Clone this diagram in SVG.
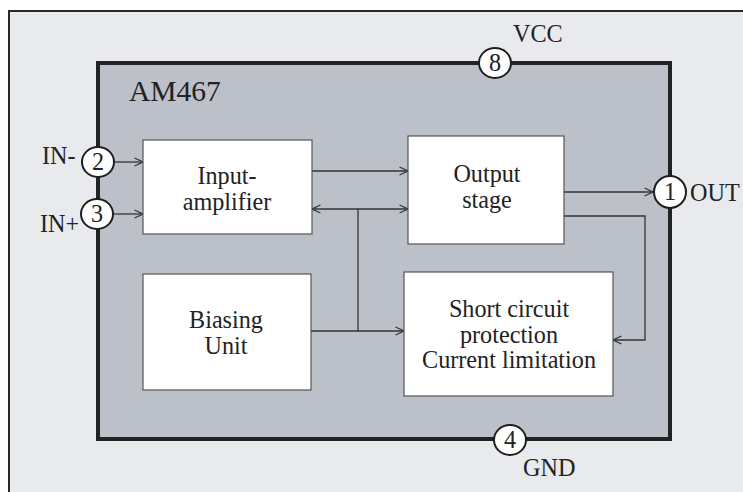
<svg xmlns="http://www.w3.org/2000/svg" width="743" height="492" viewBox="0 0 743 492">
<style>
.t{font-family:"Liberation Serif","Times New Roman",serif;fill:#222;font-size:24.2px}
.box{fill:#fff;stroke:#555;stroke-width:1.2}
.pin{fill:#fff;stroke:#1e1e1e;stroke-width:2}
.c{fill:none;stroke:#333;stroke-width:1.3}
</style>
<defs>
<marker id="a" viewBox="0 0 10 10" refX="9.5" refY="5" markerWidth="10" markerHeight="10" markerUnits="userSpaceOnUse" orient="auto-start-reverse">
<path d="M1,1 L9.5,5 L1,9" fill="none" stroke="#333" stroke-width="1.3"/>
</marker>
</defs>
<rect width="743" height="492" fill="#fff"/>
<rect id="frame" x="9" y="11" width="760" height="520" fill="#e9eaee" stroke="#2a2a2a" stroke-width="2"/>
<g id="chip">
<rect x="98" y="63" width="572" height="376" fill="#bcc0c8" stroke="#222" stroke-width="4"/>
<text class="t" x="129" y="101" style="font-size:29.5px">AM467</text>
</g>
<g id="connectors">
<line class="c" x1="114" y1="162" x2="143" y2="162" marker-end="url(#a)"/>
<line class="c" x1="114" y1="214" x2="143" y2="214" marker-end="url(#a)"/>
<line class="c" x1="312" y1="171" x2="408" y2="171" marker-end="url(#a)"/>
<line class="c" x1="312" y1="209" x2="408" y2="209" marker-start="url(#a)" marker-end="url(#a)"/>
<line class="c" x1="358" y1="209" x2="358" y2="331"/>
<line class="c" x1="311" y1="331" x2="404" y2="331" marker-end="url(#a)"/>
<line class="c" x1="564" y1="192" x2="653" y2="192" marker-end="url(#a)"/>
<polyline class="c" points="564,216 645,216 645,340 613,340" marker-end="url(#a)"/>
</g>
<g id="input-amplifier">
<rect class="box" x="143" y="140" width="169" height="94"/>
<text class="t" text-anchor="middle" x="227" y="184"><tspan x="227">Input-</tspan><tspan x="227" dy="25.5">amplifier</tspan></text>
</g>
<g id="output-stage">
<rect class="box" x="408" y="136" width="156" height="108"/>
<text class="t" text-anchor="middle" x="487" y="182"><tspan x="487">Output</tspan><tspan x="487" dy="25.5">stage</tspan></text>
</g>
<g id="biasing-unit">
<rect class="box" x="143" y="274" width="168" height="116"/>
<text class="t" text-anchor="middle" x="226" y="328"><tspan x="226">Biasing</tspan><tspan x="226" dy="26">Unit</tspan></text>
</g>
<g id="short-circuit">
<rect class="box" x="404" y="272" width="209" height="124"/>
<text class="t" text-anchor="middle" x="509" y="317"><tspan x="509">Short circuit</tspan><tspan x="509" dy="25.5">protection</tspan><tspan x="509" dy="25.5">Current limitation</tspan></text>
</g>
<g id="pin8">
<ellipse class="pin" cx="495" cy="63" rx="16" ry="15"/>
<text class="t" text-anchor="middle" x="495" y="71">8</text>
<text class="t" x="513" y="42">VCC</text>
</g>
<g id="pin2">
<ellipse class="pin" cx="98" cy="162" rx="16" ry="15"/>
<text class="t" text-anchor="middle" x="98" y="170">2</text>
<text class="t" x="42" y="164">IN-</text>
</g>
<g id="pin3">
<ellipse class="pin" cx="97" cy="214" rx="16" ry="15"/>
<text class="t" text-anchor="middle" x="97" y="222">3</text>
<text class="t" x="40" y="232">IN+</text>
</g>
<g id="pin1">
<ellipse class="pin" cx="670" cy="192" rx="16" ry="16"/>
<text class="t" text-anchor="middle" x="670" y="200">1</text>
<text class="t" x="690" y="201">OUT</text>
</g>
<g id="pin4">
<ellipse class="pin" cx="510" cy="440" rx="16" ry="15"/>
<text class="t" text-anchor="middle" x="510" y="448">4</text>
<text class="t" x="523" y="476">GND</text>
</g>
</svg>
